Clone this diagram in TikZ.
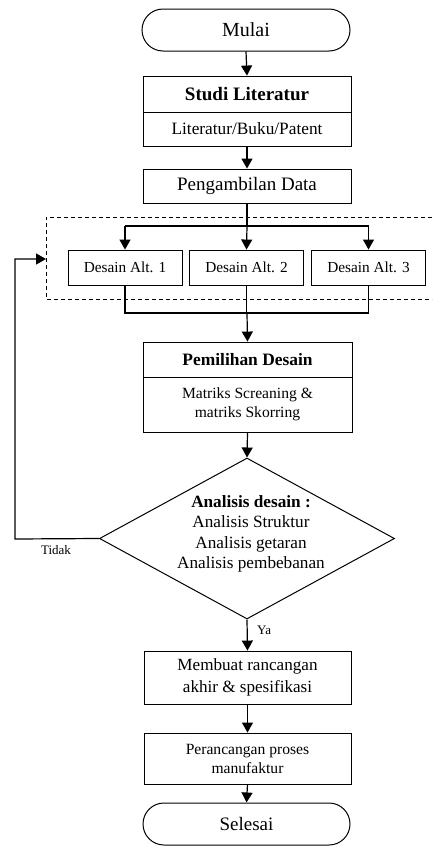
\documentclass[tikz,border=0pt]{standalone}
\usepackage{fontspec}
\setmainfont{Liberation Serif}
\usetikzlibrary{shapes.geometric,arrows.meta}
\tikzset{
  box/.style={draw,line width=0.9pt,rectangle,inner sep=0pt,align=center,minimum width=208pt},
  term/.style={draw,line width=1pt,rectangle,rounded corners=21pt,inner sep=0pt,minimum width=208pt,minimum height=42pt},
  altbox/.style={draw,line width=0.9pt,rectangle,inner sep=0pt,minimum width=114pt,minimum height=35pt,font=\fontsize{15.3}{18}\selectfont},
  conn/.style={line width=1.2pt},
  arr/.style={line width=1.2pt,-{Triangle[length=10pt,width=11pt]}},
  lbl/.style={inner sep=0pt,font=\fontsize{13}{15}\selectfont}
}
\begin{document}
\begin{tikzpicture}[x=1pt,y=-1pt]
\useasboundingbox (0,0) rectangle (432,846);
% terminators
\node[term,font=\fontsize{20}{23}\selectfont] (mulai) at (246,30) {Mulai};
% Studi literatur
\node[box,minimum height=36pt,font=\bfseries\fontsize{19}{22}\selectfont] (studi) at (247,94) {Studi Literatur};
\node[box,minimum height=34pt,font=\fontsize{17.3}{20}\selectfont] (studisub) at (247,129) {Literatur/Buku/Patent};
% data
\node[box,minimum height=34pt,font=\fontsize{19}{22}\selectfont] (data) at (247,186) {Pengambilan Data};
% dashed group
\draw[dashed,line width=0.9pt,dash pattern=on 4pt off 3pt] (432,217) -- (46,217) -- (46,299) -- (432,299);
\coordinate (grpin) at (46,259);
% alternatives
\node[altbox] (alt1) at (125,267.5) {Desain Alt. 1};
\node[altbox] (alt2) at (246.5,267.5) {Desain Alt. 2};
\node[altbox] (alt3) at (368.5,267.5) {Desain Alt. 3};
% pemilihan
\node[box,minimum width=209pt,minimum height=35pt,font=\bfseries\fontsize{17.4}{20}\selectfont] (pem) at (247.5,359.5) {Pemilihan Desain};
\node[box,minimum width=209pt,minimum height=55pt,font=\fontsize{15.6}{19}\selectfont] (pemsub) at (247.5,404.5) {Matriks Screaning \&\\matriks Skorring};
% decision
\node[draw,line width=1pt,diamond,inner sep=0pt,minimum width=295pt,minimum height=161pt] (dec) at (247,538.5) {};
\node[align=center,inner sep=0pt,font=\fontsize{17.2}{20.3}\selectfont] (dectext) at (251,534) {\textbf{Analisis desain :}\\Analisis Struktur\\Analisis getaran\\Analisis pembebanan};
% final boxes
\node[box,minimum width=207pt,minimum height=53pt,font=\fontsize{17.1}{22}\selectfont] (buat) at (247.5,677.5) {Membuat rancangan\\akhir \& spesifikasi};
\node[box,minimum width=207pt,minimum height=51pt,font=\fontsize{15.6}{19}\selectfont] (peran) at (247.5,758.5) {Perancangan proses\\manufaktur};
\node[term,minimum width=207pt,font=\fontsize{19}{22}\selectfont] (selesai) at (246.5,824) {Selesai};
% connectors
\draw[arr] (mulai.south) -- (studi.north);
\draw[arr] (studisub.south) -- (data.north);
\coordinate (split) at (247,226);
\draw[conn] (data.south) -- (split);
\draw[conn] (split -| alt1) -- (split -| alt3);
\draw[arr] (split -| alt1) -- (alt1.north);
\draw[arr] (split) -- (alt2.north);
\draw[arr] (split -| alt3) -- (alt3.north);
\coordinate (merge) at (247,313);
\draw[conn] (alt1.south) -- (merge -| alt1) -- (merge -| alt3) -- (alt3.south);
\draw[conn] (alt2.south) -- (merge -| alt2);
\draw[arr] (merge) -- (pem.north);
\draw[arr] (pemsub.south) -- (dec.north);
\draw[arr] (dec.west) -- (15,539) -- (15,259) -- (grpin);
\draw[arr] (dec.south) -- (buat.north);
\draw[arr] (buat.south) -- (peran.north);
\draw[arr] (peran.south) -- (selesai.north);
% labels
\node[lbl] (tidak) at (56,550) {Tidak};
\node[lbl,anchor=west] (ya) at (257,630) {Ya};
\end{tikzpicture}
\end{document}
